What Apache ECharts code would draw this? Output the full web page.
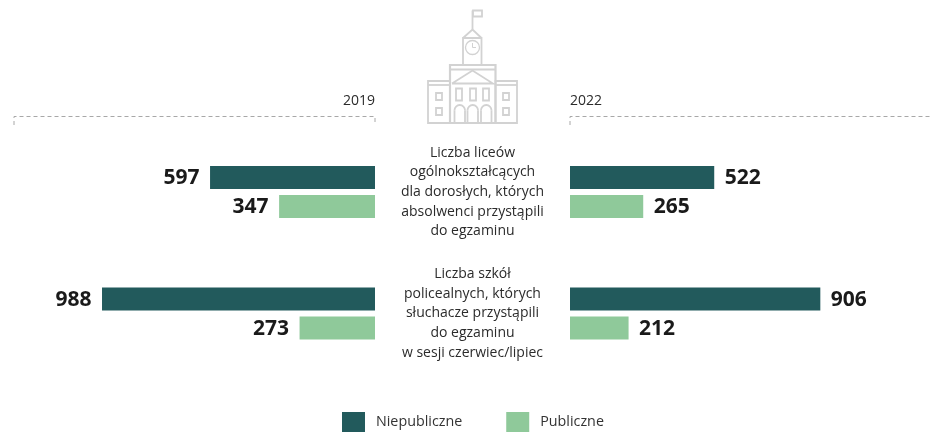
<!DOCTYPE html>
<html style="height: 100%">
<head>
    <meta charset="UTF-8">
    <script type="text/javascript" src="https://cdn.jsdelivr.net/npm/echarts@6/dist/echarts.min.js"></script>
</head>
<body style="height: 100%; margin: 0; background: #fff">
<div id="container" style="width: 931px; height: 432px"></div>
<script type="text/javascript">
var categories = [
    'Liczba liceów\nogólnokształcących\ndla dorosłych, których\nabsolwenci przystąpili\ndo egzaminu',
    'Liczba szkół\npolicealnych, których\nsłuchacze przystąpili\ndo egzaminu\nw sesji czerwiec/lipiec'
];
var years = ['2019', '2022'];
var niepubliczne2019 = [597, 988];
var publiczne2019 = [347, 273];
var niepubliczne2022 = [522, 906];
var publiczne2022 = [265, 212];

var DARK = '#225a5c', LIGHT = '#8fc99a', ICON = '#d2d2d2', FONT = '"Open Sans", sans-serif';

function bar(name, color, data, idx) {
    return {
        name: name, type: 'bar', data: data,
        xAxisIndex: idx, yAxisIndex: idx,
        barWidth: 23, barGap: '26%',
        itemStyle: { color: color },
        label: {
            show: true,
            position: idx === 0 ? 'left' : 'right',
            distance: 10.5,
            offset: [0, 0.6],
            fontFamily: FONT, fontSize: 21, fontWeight: 'bold', color: '#1a1a1a'
        }
    };
}

// icon parts, drawn as plain outlines
function rect(x, y, w, h, lw) {
    return { type: 'rect', shape: { x: x, y: y, width: w, height: h }, style: { fill: 'none', stroke: ICON, lineWidth: lw || 1.8 } };
}
function poly(points, lw, color, dash) {
    return { type: 'polyline', shape: { points: points }, style: { fill: 'none', stroke: color || ICON, lineWidth: lw || 1.8, lineDash: dash } };
}
function arch(x, w) {
    var r = w / 2;
    return [
        { type: 'arc', shape: { cx: x + r, cy: 105 + r, r: r, startAngle: Math.PI, endAngle: Math.PI * 2 }, style: { fill: 'none', stroke: ICON, lineWidth: 1.8 } },
        poly([[x, 105 + r], [x, 123]]),
        poly([[x + w, 105 + r], [x + w, 123]])
    ];
}
var icon = [
    poly([[472.5, 29], [472.5, 10.5]]),
    rect(473, 10.5, 9, 6),
    poly([[463, 38], [472.5, 29.5], [481.5, 38]]),
    rect(463, 38, 18.5, 27),
    { type: 'circle', shape: { cx: 472.5, cy: 47.5, r: 7 }, style: { fill: 'none', stroke: ICON, lineWidth: 1.3 } },
    poly([[472.5, 43], [472.5, 47.5], [476, 47.5]], 1),
    rect(450, 65, 45.5, 58, 2.2),
    poly([[450, 69.5], [495.5, 69.5]]),
    poly([[452, 83.5], [472.5, 70.5], [493, 83.5], [452, 83.5]]),
    rect(428, 81, 22, 42),
    poly([[428, 85], [450, 85]]),
    rect(495.5, 81, 21.5, 42),
    poly([[495.5, 85], [517, 85]]),
    rect(436, 93, 6, 7), rect(436, 108, 6, 7),
    rect(503, 93, 6, 7), rect(503, 108, 6, 7),
    rect(456, 88.5, 6, 12), rect(470, 88.5, 6, 12), rect(483, 88.5, 6, 12)
].concat(arch(454.5, 10.5), arch(467.5, 10.5), arch(481, 10.5));

var myChart = echarts.init(document.getElementById('container'), null, { renderer: 'canvas' });
var option = {
    animation: false,
    backgroundColor: '#fff',
    legend: {
        left: 337, top: 407,
        itemWidth: 23, itemHeight: 20, itemGap: 44,
        icon: 'rect',
        data: ['Niepubliczne', 'Publiczne'],
        textStyle: { fontFamily: FONT, fontSize: 14.3, color: '#333', padding: [1, 0, 0, 6] }
    },
    grid: [
        { left: 98.7, width: 276.3, top: 131.25, height: 243 },
        { left: 570, width: 276.3, top: 131.25, height: 243 }
    ],
    xAxis: [
        { gridIndex: 0, type: 'value', min: 0, max: 1000, inverse: true, show: false },
        { gridIndex: 1, type: 'value', min: 0, max: 1000, show: false }
    ],
    yAxis: [
        {
            gridIndex: 0, type: 'category', inverse: true, position: 'right', data: categories,
            axisLine: { show: false }, axisTick: { show: false },
            axisLabel: {
                margin: 97.5, align: 'center', verticalAlign: 'middle', padding: [3, 0, 0, 0],
                fontFamily: FONT, fontSize: 14, lineHeight: 19.6, color: '#2b2b2b'
            }
        },
        { gridIndex: 1, type: 'category', inverse: true, data: categories, show: false }
    ],
    series: [
        bar('Niepubliczne', DARK, niepubliczne2019, 0),
        bar('Publiczne', LIGHT, publiczne2019, 0),
        bar('Niepubliczne', DARK, niepubliczne2022, 1),
        bar('Publiczne', LIGHT, publiczne2022, 1)
    ],
    graphic: icon.concat([
        poly([[14, 125], [14, 116.5], [375, 116.5], [375, 125]], 1, '#a8a8a8', [4, 3]),
        poly([[570, 125], [570, 116.5], [931, 116.5]], 1, '#a8a8a8', [4, 3]),
        { type: 'text', x: 375, y: 101, style: { text: years[0], align: 'right', verticalAlign: 'middle', font: '14px ' + FONT, fill: '#2b2b2b' } },
        { type: 'text', x: 570, y: 101, style: { text: years[1], align: 'left', verticalAlign: 'middle', font: '14px ' + FONT, fill: '#2b2b2b' } }
    ])
};
myChart.setOption(option);
</script>
</body>
</html>
